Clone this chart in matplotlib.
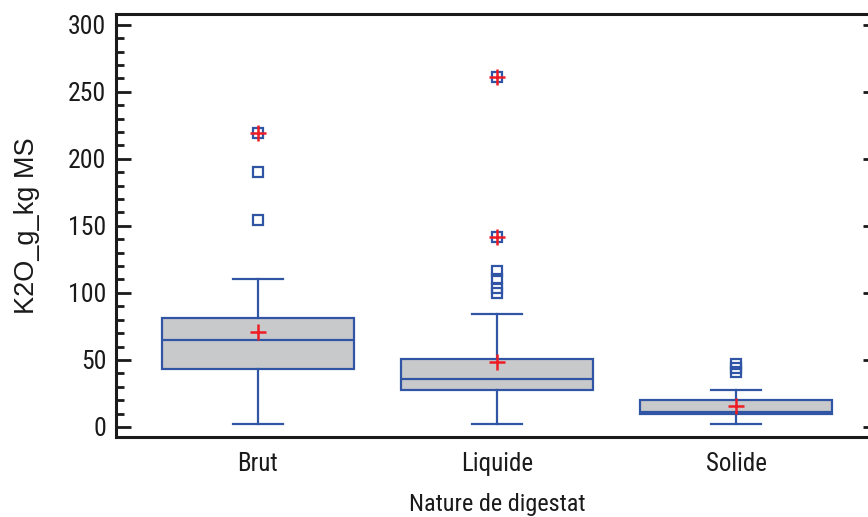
import matplotlib
matplotlib.use("Agg")
import matplotlib.pyplot as plt
from matplotlib.ticker import MultipleLocator

plt.rcParams['font.family'] = ['Roboto Condensed', 'Liberation Sans', 'DejaVu Sans']

# =====
# Data
# =====
categories = ["Brut", "Liquide", "Solide"]
whisker_low = [2, 2, 2]
q1 = [43, 27.5, 10]
median = [65, 35.5, 11]
q3 = [81, 51, 20]
whisker_high = [110.5, 84.5, 27.5]
means = [71, 48.5, 15.5]
outliers = [
    [154, 190, 219.5],
    [100, 104, 110, 116, 142, 261],
    [41, 44, 47],
]
far_outliers = [
    [219.5],
    [142, 261],
    [],
]

blue = "#2F55A4"
red = "#EE1C25"
grey = "#C8C9CB"

stats = []
for i, name in enumerate(categories):
    stats.append({
        "label": name,
        "whislo": whisker_low[i],
        "q1": q1[i],
        "med": median[i],
        "q3": q3[i],
        "whishi": whisker_high[i],
        "fliers": outliers[i],
    })

# ====
# Plot
# ====
fig = plt.figure(figsize=(8.68, 5.17), dpi=100)
ax = fig.add_axes([116/868, 80/517, 762/868, 423/517])

line = dict(color=blue, linewidth=1.6)
ax.bxp(stats, positions=[1, 2, 3], widths=0.8, capwidths=0.21,
       patch_artist=True, showfliers=True,
       boxprops=dict(facecolor=grey, edgecolor=blue, linewidth=1.6),
       medianprops=line, whiskerprops=line, capprops=line,
       flierprops=dict(marker="s", markersize=7, markerfacecolor="none",
                       markeredgecolor=blue, markeredgewidth=1.6, linestyle="none"))

# mean markers and far-out markers
ax.plot([1, 2, 3], means, linestyle="none", marker="+", markersize=11,
        markeredgewidth=1.8, color=red, zorder=5)
for i, vals in enumerate(far_outliers):
    ax.plot([i + 1] * len(vals), vals, linestyle="none", marker="+",
            markersize=11, markeredgewidth=1.8, color=red, zorder=5)

ax.set_xlim(0.406, 3.594)
ax.set_ylim(-7.5, 308)
ax.yaxis.set_major_locator(MultipleLocator(50))
ax.yaxis.set_minor_locator(MultipleLocator(10))

for s in ["top", "left", "bottom"]:
    ax.spines[s].set_linewidth(2.2)
    ax.spines[s].set_color("#1a1a1a")
ax.spines["right"].set_visible(False)

ax.tick_params(axis="y", which="major", direction="in", length=10.8, width=2,
               color="#1a1a1a", labelsize=18.5, pad=7, right=True,
               labelcolor="#1a1a1a")
ax.tick_params(axis="y", which="minor", direction="in", length=5.8, width=2,
               color="#1a1a1a", right=False)
ax.tick_params(axis="x", length=0, labelsize=18, pad=11, labelcolor="#1a1a1a")
ax.set_xticks([1, 2, 3], categories)

ax.set_xlabel("Nature de digestat", fontsize=17.5, labelpad=12, color="#1a1a1a")
ax.set_ylabel("K2O_g_kg MS", fontsize=19.5, labelpad=20, color="#1a1a1a",
              family=["Liberation Sans", "DejaVu Sans"])

fig.savefig("out.png", dpi=100)
